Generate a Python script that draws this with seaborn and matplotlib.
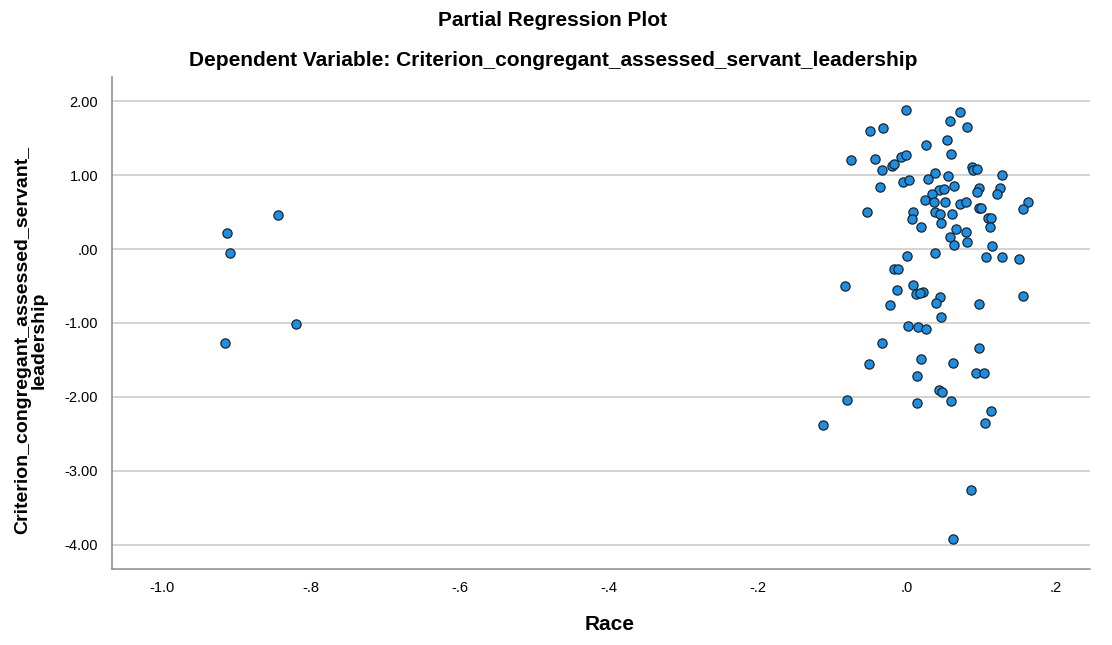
import matplotlib
matplotlib.use("Agg")
import matplotlib.pyplot as plt
import seaborn as sns
import pandas as pd

race_resid = [
    -0.844, -0.913, -0.908, -0.820, -0.915,
    -0.0004, 0.0715, 0.0577, 0.0815, -0.0493, -0.0322, 0.0541, 0.0259, 0.0591,
    -0.0742, -0.0420, -0.0081, -0.0004, -0.0336, -0.0192, -0.0165, 0.0882,
    0.0895, 0.0944, 0.1285, 0.0376, 0.0554, 0.0291, -0.0362, -0.0050, 0.0036,
    0.0635, 0.0970, 0.0949, 0.1258, 0.1212, 0.0430, 0.0501, 0.0345, 0.0242,
    0.1628,
    0.0362, 0.0514, 0.0711, 0.0792, 0.0970, 0.1003, 0.1561, -0.0537, 0.0085,
    0.0067, 0.0376, 0.0452, 0.0604, 0.0466, 0.1091, 0.1128, 0.1118, 0.0188,
    0.0658, 0.0801, 0.0577, 0.0631, 0.0815, 0.1145, 0.0004, 0.0376, 0.1070,
    0.1279, 0.1503, -0.0165, -0.0111, -0.0828, -0.0130, 0.0077, 0.0121,
    0.0219, 0.0174, 0.0443, 0.1561, 0.0399, 0.0966, -0.0228,
    0.0466, 0.0017, 0.0148, 0.0264, -0.0326, 0.0966, 0.0188, -0.0510, 0.0621,
    0.0138, 0.0936, 0.1034, 0.0434, 0.0479, -0.0796, 0.0134, 0.0591, 0.1128,
    -0.1123, 0.1056, 0.0859, 0.0621,
]
criterion_resid = [
    0.461, 0.213, -0.050, -1.020, -1.270,
    1.883, 1.860, 1.734, 1.657, 1.603, 1.644, 1.477, 1.409, 1.287,
    1.202, 1.224, 1.247, 1.270, 1.070, 1.129, 1.148, 1.107,
    1.070, 1.084, 1.003, 1.034, 0.989, 0.949, 0.844, 0.912, 0.935,
    0.850, 0.822, 0.776, 0.831, 0.741, 0.799, 0.813, 0.749, 0.664,
    0.641,
    0.633, 0.641, 0.606, 0.633, 0.560, 0.560, 0.542, 0.497, 0.505,
    0.402, 0.505, 0.474, 0.474, 0.356, 0.416, 0.424, 0.298, 0.298,
    0.267, 0.226, 0.163, 0.054, 0.095, 0.041, -0.091, -0.050, -0.112,
    -0.104, -0.136, -0.271, -0.271, -0.497, -0.560, -0.488, -0.606,
    -0.579, -0.596, -0.646, -0.637, -0.736, -0.749, -0.759,
    -0.925, -1.043, -1.053, -1.084, -1.264, -1.332, -1.491, -1.554, -1.535,
    -1.717, -1.676, -1.676, -1.901, -1.934, -2.037, -2.083, -2.050, -2.191,
    -2.375, -2.348, -3.256, -3.925,
]

x_ticks = [-1.0, -0.8, -0.6, -0.4, -0.2, 0.0, 0.2]
x_tick_labels = ["-1.0", "-.8", "-.6", "-.4", "-.2", ".0", ".2"]
y_ticks = [2.0, 1.0, 0.0, -1.0, -2.0, -3.0, -4.0]
y_tick_labels = ["2.00", "1.00", ".00", "-1.00", "-2.00", "-3.00", "-4.00"]

title = "Partial Regression Plot"
subtitle = "Dependent Variable: Criterion_congregant_assessed_servant_leadership"
x_label = "Race"
y_label = "Criterion_congregant_assessed_servant_\nleadership"

df = pd.DataFrame({"Race": race_resid, "Criterion": criterion_resid})

sns.set_style("white")
plt.rcParams["font.family"] = ["Liberation Sans", "DejaVu Sans"]
plt.rcParams["text.color"] = "black"

fig = plt.figure(figsize=(11.12, 6.45), dpi=100)
ax = fig.add_axes([112 / 1112, 1 - 569 / 645, (1090 - 112) / 1112, (569 - 77) / 645])

sns.scatterplot(data=df, x="Race", y="Criterion", ax=ax, s=44,
                color="#1E8FE0", edgecolor="#1a2430", linewidth=0.9, zorder=3)

ax.set_xlim(-1.067, 0.246)
ax.set_ylim(-4.33, 2.33)
ax.set_xticks(x_ticks)
ax.set_xticklabels(x_tick_labels)
ax.set_yticks(y_ticks)
ax.set_yticklabels(y_tick_labels)
ax.tick_params(axis="both", length=0, labelsize=10.5, labelcolor="black")
ax.tick_params(axis="x", pad=9)
ax.tick_params(axis="y", pad=10)

ax.yaxis.grid(True, color="#c8c8c8", linewidth=1.1, zorder=0)
ax.xaxis.grid(False)
for side in ["top", "right"]:
    ax.spines[side].set_visible(False)
for side in ["left", "bottom"]:
    ax.spines[side].set_color("#8a8a8a")
    ax.spines[side].set_linewidth(1.1)

ax.set_xlabel("")
ax.set_ylabel("")
fig.text(610 / 1112, 1 - 625 / 645, x_label, ha="center", va="center",
         fontsize=15, fontweight="bold", color="black")
fig.text(31 / 1112, 1 - 340 / 645, y_label, ha="center", va="center", rotation=90,
         fontsize=14, fontweight="bold", linespacing=0.9, color="black")

fig.text(553 / 1112, 1 - 20 / 645, title, ha="center", va="center",
         fontsize=15, fontweight="bold", color="black")
fig.text(553 / 1112, 1 - 60 / 645, subtitle, ha="center", va="center",
         fontsize=15, fontweight="bold", color="black")

fig.savefig("out.png", dpi=100)
